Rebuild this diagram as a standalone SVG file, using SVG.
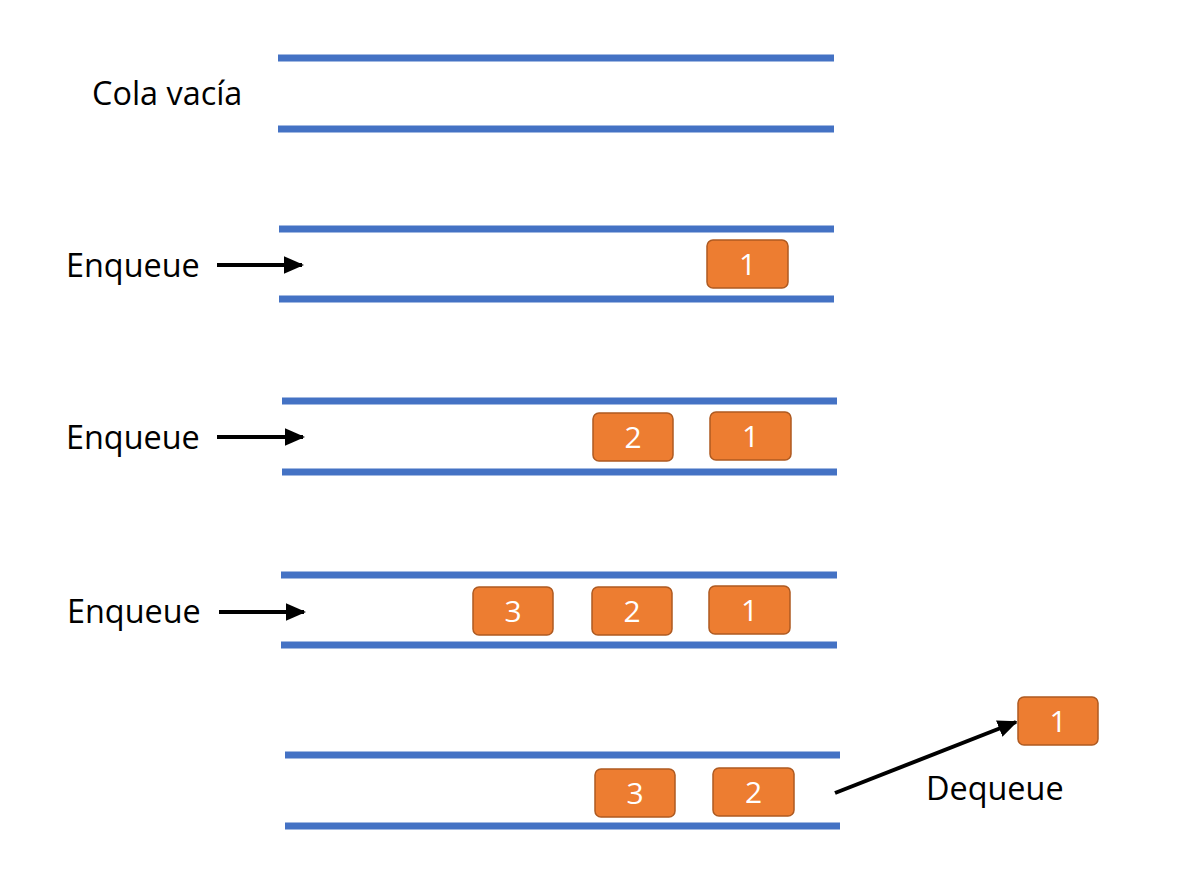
<svg xmlns="http://www.w3.org/2000/svg" width="1183" height="876" viewBox="0 0 1183 876">
<style>
.q{stroke:#4472C4;stroke-width:7;}
.b rect{fill:#ED7D31;stroke:#AE5A21;stroke-width:1.5;}
.b text{fill:#fff;font-family:"Open Sans","Liberation Sans",sans-serif;font-size:30px;text-anchor:middle;}
.l{font-family:"Open Sans","Liberation Sans",sans-serif;font-size:32.4px;fill:#000;}
.a{stroke:#000;stroke-width:4;fill:none;marker-end:url(#ah);}
</style>
<defs>
<marker id="ah" markerWidth="6" markerHeight="6" refX="4.5" refY="3" orient="auto" markerUnits="strokeWidth">
<path d="M0,0.8 L5,3 L0,5.2 Z" fill="#000"/>
</marker>
</defs>
<rect width="1183" height="876" fill="#fff"/>
<g id="queue1"><line class="q" x1="278" y1="58" x2="834" y2="58"/><line class="q" x1="278" y1="129" x2="834" y2="129"/></g>
<g id="queue2"><line class="q" x1="279" y1="229" x2="834" y2="229"/><line class="q" x1="279" y1="299" x2="834" y2="299"/></g>
<g id="queue3"><line class="q" x1="282" y1="401" x2="837" y2="401"/><line class="q" x1="282" y1="472" x2="837" y2="472"/></g>
<g id="queue4"><line class="q" x1="281" y1="575" x2="837" y2="575"/><line class="q" x1="281" y1="645" x2="837" y2="645"/></g>
<g id="queue5"><line class="q" x1="285" y1="755" x2="840" y2="755"/><line class="q" x1="285" y1="826" x2="840" y2="826"/></g>
<g id="labels">
<text class="l" x="92" y="105">Cola vacía</text>
<text class="l" x="66" y="277">Enqueue</text>
<text class="l" x="66" y="449">Enqueue</text>
<text class="l" x="67" y="623">Enqueue</text>
<text class="l" x="926" y="800">Dequeue</text>
</g>
<g id="r2b1" class="b"><rect x="707" y="240" width="81" height="48" rx="6"/><text x="747.5" y="275">1</text></g>
<g id="r3b2" class="b"><rect x="593" y="413" width="80" height="48" rx="6"/><text x="633" y="448">2</text></g>
<g id="r3b1" class="b"><rect x="710" y="412" width="81" height="48" rx="6"/><text x="750.5" y="447">1</text></g>
<g id="r4b3" class="b"><rect x="473" y="587" width="80" height="48" rx="6"/><text x="513" y="622">3</text></g>
<g id="r4b2" class="b"><rect x="592" y="587" width="80" height="48" rx="6"/><text x="632" y="622">2</text></g>
<g id="r4b1" class="b"><rect x="709" y="586" width="81" height="48" rx="6"/><text x="749.5" y="621">1</text></g>
<g id="r5b3" class="b"><rect x="595" y="769" width="80" height="48" rx="6"/><text x="635" y="804">3</text></g>
<g id="r5b2" class="b"><rect x="713" y="768" width="81" height="48" rx="6"/><text x="753.5" y="803">2</text></g>
<g id="out1" class="b"><rect x="1018" y="697" width="80" height="48" rx="6"/><text x="1058" y="732">1</text></g>
<g id="connectors">
<line class="a" x1="217" y1="265" x2="302" y2="265"/>
<line class="a" x1="217" y1="437" x2="303" y2="437"/>
<line class="a" x1="219" y1="612" x2="304" y2="612"/>
<line class="a" x1="835" y1="793" x2="1016" y2="722"/>
</g>
</svg>
